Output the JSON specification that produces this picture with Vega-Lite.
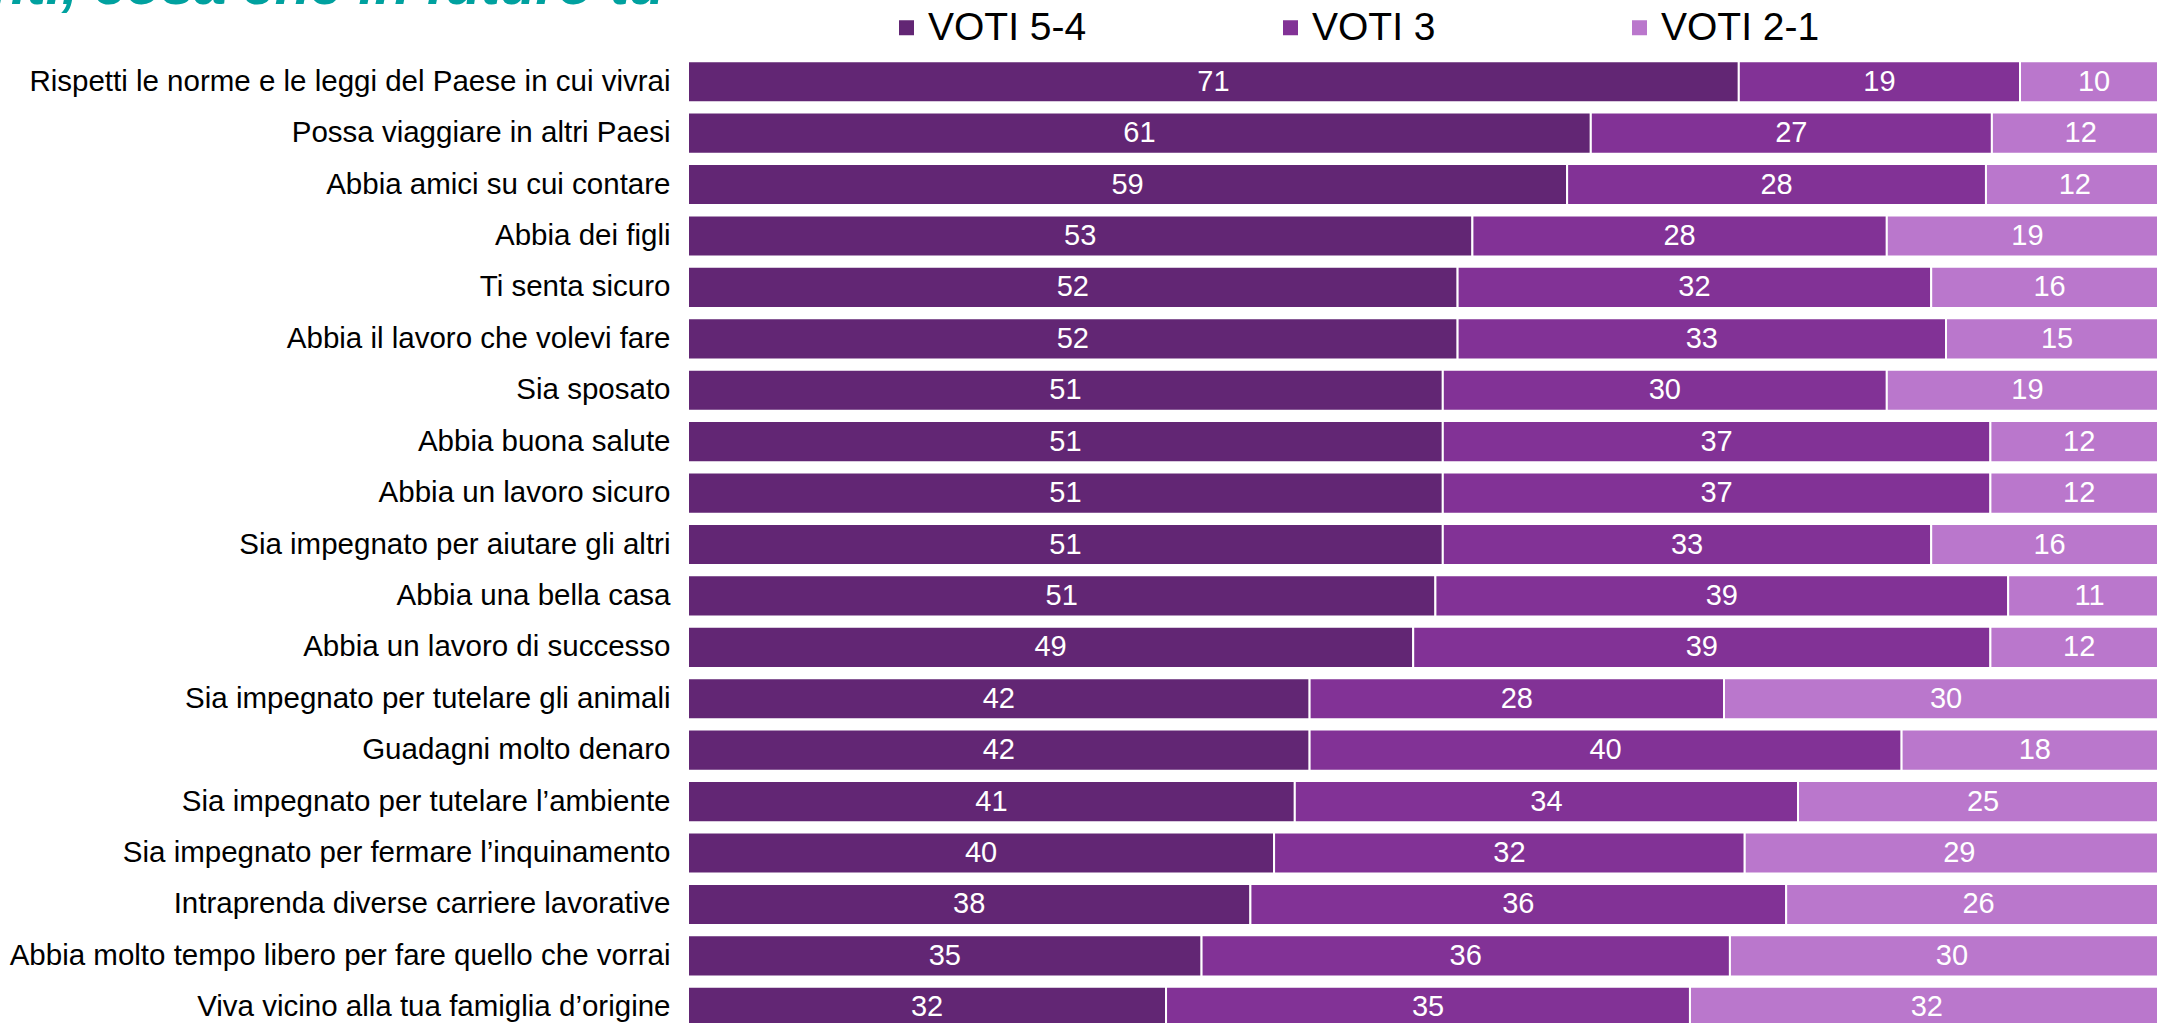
{
  "$schema": "https://vega.github.io/schema/vega-lite/v6.json",
  "width": 1480,
  "height": 977,
  "autosize": {"type": "none"},
  "padding": {"left": 688, "top": 56, "right": 0, "bottom": 0},
  "background": "white",
  "config": {
    "view": {"stroke": null},
    "font": "Liberation Sans"
  },
  "title": {
    "text": "nti, cosa che in futuro tu",
    "anchor": "start",
    "frame": "group",
    "orient": "top",
    "baseline": "alphabetic",
    "offset": -54,
    "dx": -697,
    "fontSize": 58,
    "fontWeight": "bold",
    "fontStyle": "italic",
    "font": "Liberation Sans",
    "color": "#00A19F"
  },
  "data": {
    "values": [
      {"item": "Rispetti le norme e le leggi del Paese in cui vivrai", "cat": "VOTI 5-4", "ord": 1, "value": 71},
      {"item": "Rispetti le norme e le leggi del Paese in cui vivrai", "cat": "VOTI 3", "ord": 2, "value": 19},
      {"item": "Rispetti le norme e le leggi del Paese in cui vivrai", "cat": "VOTI 2-1", "ord": 3, "value": 10},
      {"item": "Possa viaggiare in altri Paesi", "cat": "VOTI 5-4", "ord": 1, "value": 61},
      {"item": "Possa viaggiare in altri Paesi", "cat": "VOTI 3", "ord": 2, "value": 27.1},
      {"item": "Possa viaggiare in altri Paesi", "cat": "VOTI 2-1", "ord": 3, "value": 12},
      {"item": "Abbia amici su cui contare", "cat": "VOTI 5-4", "ord": 1, "value": 59.4},
      {"item": "Abbia amici su cui contare", "cat": "VOTI 3", "ord": 2, "value": 28.3},
      {"item": "Abbia amici su cui contare", "cat": "VOTI 2-1", "ord": 3, "value": 12},
      {"item": "Abbia dei figli", "cat": "VOTI 5-4", "ord": 1, "value": 53},
      {"item": "Abbia dei figli", "cat": "VOTI 3", "ord": 2, "value": 28},
      {"item": "Abbia dei figli", "cat": "VOTI 2-1", "ord": 3, "value": 19},
      {"item": "Ti senta sicuro", "cat": "VOTI 5-4", "ord": 1, "value": 52},
      {"item": "Ti senta sicuro", "cat": "VOTI 3", "ord": 2, "value": 32},
      {"item": "Ti senta sicuro", "cat": "VOTI 2-1", "ord": 3, "value": 16},
      {"item": "Abbia il lavoro che volevi fare", "cat": "VOTI 5-4", "ord": 1, "value": 52},
      {"item": "Abbia il lavoro che volevi fare", "cat": "VOTI 3", "ord": 2, "value": 33},
      {"item": "Abbia il lavoro che volevi fare", "cat": "VOTI 2-1", "ord": 3, "value": 15},
      {"item": "Sia sposato", "cat": "VOTI 5-4", "ord": 1, "value": 51},
      {"item": "Sia sposato", "cat": "VOTI 3", "ord": 2, "value": 30},
      {"item": "Sia sposato", "cat": "VOTI 2-1", "ord": 3, "value": 19},
      {"item": "Abbia buona salute", "cat": "VOTI 5-4", "ord": 1, "value": 51},
      {"item": "Abbia buona salute", "cat": "VOTI 3", "ord": 2, "value": 37},
      {"item": "Abbia buona salute", "cat": "VOTI 2-1", "ord": 3, "value": 12},
      {"item": "Abbia un lavoro sicuro", "cat": "VOTI 5-4", "ord": 1, "value": 51},
      {"item": "Abbia un lavoro sicuro", "cat": "VOTI 3", "ord": 2, "value": 37},
      {"item": "Abbia un lavoro sicuro", "cat": "VOTI 2-1", "ord": 3, "value": 12},
      {"item": "Sia impegnato per aiutare gli altri", "cat": "VOTI 5-4", "ord": 1, "value": 51},
      {"item": "Sia impegnato per aiutare gli altri", "cat": "VOTI 3", "ord": 2, "value": 33},
      {"item": "Sia impegnato per aiutare gli altri", "cat": "VOTI 2-1", "ord": 3, "value": 16},
      {"item": "Abbia una bella casa", "cat": "VOTI 5-4", "ord": 1, "value": 50.5},
      {"item": "Abbia una bella casa", "cat": "VOTI 3", "ord": 2, "value": 38.7},
      {"item": "Abbia una bella casa", "cat": "VOTI 2-1", "ord": 3, "value": 11},
      {"item": "Abbia un lavoro di successo", "cat": "VOTI 5-4", "ord": 1, "value": 49},
      {"item": "Abbia un lavoro di successo", "cat": "VOTI 3", "ord": 2, "value": 39},
      {"item": "Abbia un lavoro di successo", "cat": "VOTI 2-1", "ord": 3, "value": 12},
      {"item": "Sia impegnato per tutelare gli animali", "cat": "VOTI 5-4", "ord": 1, "value": 42},
      {"item": "Sia impegnato per tutelare gli animali", "cat": "VOTI 3", "ord": 2, "value": 28},
      {"item": "Sia impegnato per tutelare gli animali", "cat": "VOTI 2-1", "ord": 3, "value": 30},
      {"item": "Guadagni molto denaro", "cat": "VOTI 5-4", "ord": 1, "value": 42},
      {"item": "Guadagni molto denaro", "cat": "VOTI 3", "ord": 2, "value": 40},
      {"item": "Guadagni molto denaro", "cat": "VOTI 2-1", "ord": 3, "value": 18},
      {"item": "Sia impegnato per tutelare l’ambiente", "cat": "VOTI 5-4", "ord": 1, "value": 41},
      {"item": "Sia impegnato per tutelare l’ambiente", "cat": "VOTI 3", "ord": 2, "value": 34},
      {"item": "Sia impegnato per tutelare l’ambiente", "cat": "VOTI 2-1", "ord": 3, "value": 25},
      {"item": "Sia impegnato per fermare l’inquinamento", "cat": "VOTI 5-4", "ord": 1, "value": 39.6},
      {"item": "Sia impegnato per fermare l’inquinamento", "cat": "VOTI 3", "ord": 2, "value": 31.8},
      {"item": "Sia impegnato per fermare l’inquinamento", "cat": "VOTI 2-1", "ord": 3, "value": 29},
      {"item": "Intraprenda diverse carriere lavorative", "cat": "VOTI 5-4", "ord": 1, "value": 38},
      {"item": "Intraprenda diverse carriere lavorative", "cat": "VOTI 3", "ord": 2, "value": 36.2},
      {"item": "Intraprenda diverse carriere lavorative", "cat": "VOTI 2-1", "ord": 3, "value": 26},
      {"item": "Abbia molto tempo libero per fare quello che vorrai", "cat": "VOTI 5-4", "ord": 1, "value": 34.7},
      {"item": "Abbia molto tempo libero per fare quello che vorrai", "cat": "VOTI 3", "ord": 2, "value": 35.7},
      {"item": "Abbia molto tempo libero per fare quello che vorrai", "cat": "VOTI 2-1", "ord": 3, "value": 30},
      {"item": "Viva vicino alla tua famiglia d’origine", "cat": "VOTI 5-4", "ord": 1, "value": 32.3},
      {"item": "Viva vicino alla tua famiglia d’origine", "cat": "VOTI 3", "ord": 2, "value": 35.4},
      {"item": "Viva vicino alla tua famiglia d’origine", "cat": "VOTI 2-1", "ord": 3, "value": 32}
    ]
  },
  "transform": [
    {"stack": "value", "groupby": ["item"], "sort": [{"field": "ord", "order": "ascending"}], "as": ["x0", "x1"]},
    {"calculate": "(datum.x0 + datum.x1) / 2", "as": "mid"}
  ],
  "encoding": {
    "y": {
      "field": "item",
      "type": "nominal",
      "sort": null,
      "scale": {"paddingInner": 0.2, "paddingOuter": 0.1},
      "axis": {
        "title": null,
        "ticks": false,
        "domain": false,
        "labelFontSize": 29.5,
        "labelColor": "#000000",
        "labelPadding": 18,
        "labelLimit": 1000,
        "labelFont": "Liberation Sans"
      }
    }
  },
  "layer": [
    {
      "mark": {"type": "bar", "stroke": "white", "strokeWidth": 2},
      "encoding": {
        "x": {"field": "x0", "type": "quantitative", "scale": {"domain": [0, 100], "nice": false}, "axis": null},
        "x2": {"field": "x1"},
        "color": {
          "field": "cat",
          "type": "nominal",
          "scale": {"domain": ["VOTI 5-4", "VOTI 3", "VOTI 2-1"], "range": ["#622674", "#823296", "#BA77CC"]},
          "legend": {
            "title": null,
            "orient": "none",
            "direction": "horizontal",
            "legendX": 199,
            "legendY": -48,
            "symbolType": "square",
            "symbolSize": 225,
            "symbolStrokeWidth": 0,
            "labelFontSize": 39,
            "labelFont": "Liberation Sans",
            "labelColor": "#000000",
            "labelOffset": 2,
            "columnPadding": 184,
            "padding": 0
          }
        }
      }
    },
    {
      "mark": {"type": "text", "color": "white", "fontSize": 29, "font": "Liberation Sans", "baseline": "middle", "align": "center"},
      "encoding": {
        "x": {"field": "mid", "type": "quantitative"},
        "text": {"field": "value", "type": "quantitative", "format": ".0f"}
      }
    }
  ]
}
